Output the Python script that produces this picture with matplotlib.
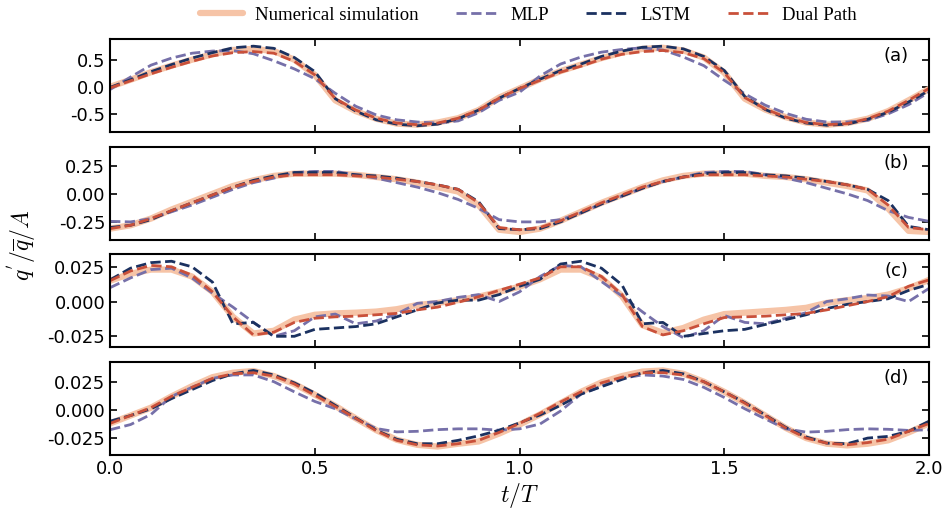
import numpy as np
import matplotlib
matplotlib.use('Agg')
import matplotlib.pyplot as plt

plt.rcParams['mathtext.fontset'] = 'cm'
plt.rcParams['axes.unicode_minus'] = False

# time axis, one sample every 0.05 T
t = np.linspace(0, 2, 41)

# panel (a)
sim_a = [0.0, 0.13, 0.27, 0.39, 0.50, 0.60, 0.68, 0.70, 0.66, 0.50, 0.22, -0.25, -0.45, -0.59, -0.68, -0.70,
         -0.66, -0.58, -0.43, -0.20, -0.03, 0.14, 0.29, 0.41, 0.53, 0.63, 0.70, 0.72, 0.67, 0.54, 0.26, -0.22,
         -0.42, -0.56, -0.66, -0.70, -0.67, -0.59, -0.45, -0.25, -0.04]
mlp_a = [-0.05, 0.18, 0.40, 0.53, 0.62, 0.66, 0.67, 0.61, 0.48, 0.33, 0.15, -0.12, -0.36, -0.52, -0.61, -0.65,
         -0.67, -0.63, -0.48, -0.25, -0.10, 0.20, 0.42, 0.55, 0.64, 0.69, 0.72, 0.68, 0.55, 0.39, 0.12, -0.13,
         -0.34, -0.49, -0.60, -0.65, -0.65, -0.62, -0.50, -0.33, -0.10]
lstm_a = [-0.01, 0.13, 0.28, 0.41, 0.53, 0.63, 0.72, 0.75, 0.71, 0.54, 0.28, -0.22, -0.45, -0.61, -0.69, -0.72,
          -0.69, -0.59, -0.43, -0.21, -0.03, 0.14, 0.30, 0.42, 0.56, 0.66, 0.73, 0.75, 0.70, 0.56, 0.30, -0.18,
          -0.42, -0.58, -0.67, -0.71, -0.69, -0.60, -0.47, -0.28, -0.07]
dual_a = [-0.02, 0.11, 0.24, 0.36, 0.47, 0.57, 0.63, 0.65, 0.62, 0.47, 0.22, -0.22, -0.43, -0.58, -0.67, -0.70,
          -0.67, -0.58, -0.43, -0.21, -0.03, 0.12, 0.27, 0.38, 0.51, 0.60, 0.65, 0.67, 0.63, 0.52, 0.26, -0.20,
          -0.41, -0.56, -0.66, -0.70, -0.68, -0.59, -0.45, -0.25, -0.03]

# panel (b)
sim_b = [-0.31, -0.28, -0.22, -0.14, -0.07, 0.0, 0.07, 0.12, 0.16, 0.18, 0.18, 0.18, 0.17, 0.15, 0.13, 0.10,
         0.06, 0.02, -0.10, -0.32, -0.34, -0.31, -0.24, -0.16, -0.08, -0.01, 0.06, 0.12, 0.16, 0.18, 0.18, 0.18,
         0.16, 0.15, 0.13, 0.10, 0.07, 0.03, -0.13, -0.33, -0.34]
mlp_b = [-0.245, -0.25, -0.22, -0.16, -0.10, -0.03, 0.04, 0.10, 0.14, 0.19, 0.20, 0.20, 0.17, 0.14, 0.10, 0.06,
         0.01, -0.05, -0.13, -0.23, -0.25, -0.25, -0.23, -0.17, -0.09, -0.02, 0.05, 0.11, 0.15, 0.19, 0.20, 0.20,
         0.17, 0.14, 0.10, 0.05, 0.0, -0.06, -0.15, -0.21, -0.245]
lstm_b = [-0.30, -0.28, -0.23, -0.15, -0.08, -0.01, 0.06, 0.12, 0.16, 0.19, 0.19, 0.19, 0.17, 0.16, 0.14, 0.11,
          0.08, 0.04, -0.07, -0.31, -0.32, -0.31, -0.25, -0.17, -0.09, -0.02, 0.05, 0.11, 0.15, 0.18, 0.19, 0.19,
          0.17, 0.16, 0.14, 0.11, 0.08, 0.04, -0.06, -0.29, -0.32]
dual_b = [-0.31, -0.28, -0.22, -0.15, -0.08, -0.01, 0.06, 0.11, 0.15, 0.17, 0.17, 0.17, 0.16, 0.15, 0.13, 0.11,
          0.08, 0.04, -0.08, -0.30, -0.32, -0.30, -0.24, -0.16, -0.08, -0.01, 0.06, 0.11, 0.15, 0.17, 0.17, 0.17,
          0.16, 0.15, 0.13, 0.11, 0.08, 0.04, -0.10, -0.30, -0.32]

# panel (c)
sim_c = [0.015, 0.020, 0.023, 0.023, 0.018, 0.007, -0.011, -0.023, -0.021, -0.013, -0.0095, -0.0085, -0.008,
         -0.0072, -0.0055, -0.0025, -0.001, 0.001, 0.0035, 0.007, 0.0107, 0.016, 0.023, 0.023, 0.017, 0.004,
         -0.017, -0.0225, -0.019, -0.013, -0.009, -0.008, -0.007, -0.006, -0.0045, -0.001, 0.001, 0.0025, 0.005,
         0.0095, 0.0156]
mlp_c = [0.010, 0.017, 0.023, 0.024, 0.017, 0.006, -0.004, -0.015, -0.025, -0.021, -0.011, -0.009, -0.016,
         -0.014, -0.009, -0.0013, 0.0, 0.003, 0.005, 0.0, 0.007, 0.018, 0.026, 0.025, 0.0144, 0.004, -0.0074,
         -0.018, -0.026, -0.021, -0.010, -0.015, -0.016, -0.012, -0.008, 0.0, 0.002, 0.0047, 0.004, 0.0, 0.0095]
lstm_c = [0.0156, 0.024, 0.028, 0.029, 0.025, 0.014, -0.016, -0.015, -0.025, -0.025, -0.020, -0.019, -0.018,
          -0.016, -0.011, -0.006, -0.001, 0.001, 0.001, 0.005, 0.011, 0.016, 0.027, 0.029, 0.024, 0.012, -0.016,
          -0.015, -0.025, -0.023, -0.021, -0.020, -0.0165, -0.013, -0.0095, -0.005, -0.002, 0.0, 0.002, 0.008,
          0.0124]
dual_c = [0.015, 0.022, 0.026, 0.025, 0.019, 0.007, -0.011, -0.024, -0.022, -0.015, -0.012, -0.011, -0.0105,
          -0.0095, -0.0085, -0.006, -0.004, -0.0005, 0.0035, 0.008, 0.0125, 0.017, 0.025, 0.025, 0.018, 0.005,
          -0.018, -0.024, -0.021, -0.016, -0.0115, -0.011, -0.0105, -0.0095, -0.0085, -0.006, -0.003, 0.0, 0.0035,
          0.011, 0.0156]

# panel (d)
sim_d = [-0.012, -0.005, 0.002, 0.012, 0.021, 0.029, 0.033, 0.0345, 0.030, 0.023, 0.0135, 0.0035, -0.0075,
         -0.018, -0.0265, -0.031, -0.0325, -0.030, -0.028, -0.021, -0.013, -0.004, 0.006, 0.016, 0.0244, 0.030,
         0.034, 0.035, 0.032, 0.025, 0.016, 0.006, -0.005, -0.016, -0.025, -0.030, -0.0315, -0.030, -0.027,
         -0.020, -0.012]
mlp_d = [-0.0176, -0.013, -0.004, 0.012, 0.020, 0.028, 0.031, 0.031, 0.025, 0.016, 0.0075, 0.001, -0.008,
         -0.0165, -0.0195, -0.019, -0.0175, -0.0168, -0.0168, -0.018, -0.0168, -0.0125, -0.001, 0.014, 0.021,
         0.028, 0.031, 0.030, 0.027, 0.020, 0.011, 0.001, -0.008, -0.0168, -0.0197, -0.019, -0.0175, -0.0168,
         -0.0172, -0.0182, -0.0176]
lstm_d = [-0.010, -0.005, 0.001, 0.010, 0.018, 0.026, 0.032, 0.035, 0.031, 0.024, 0.015, 0.004, -0.007, -0.018,
          -0.026, -0.030, -0.030, -0.027, -0.023, -0.018, -0.0115, -0.0045, 0.004, 0.014, 0.0206, 0.027, 0.033,
          0.035, 0.032, 0.025, 0.016, 0.0065, -0.0045, -0.0155, -0.024, -0.0295, -0.030, -0.025, -0.0235, -0.019,
          -0.010]
dual_d = [-0.012, -0.005, 0.002, 0.012, 0.020, 0.028, 0.032, 0.033, 0.030, 0.023, 0.013, 0.003, -0.0075,
          -0.0185, -0.027, -0.031, -0.032, -0.030, -0.027, -0.020, -0.012, -0.003, 0.007, 0.016, 0.024, 0.029,
          0.033, 0.033, 0.031, 0.025, 0.016, 0.006, -0.005, -0.016, -0.025, -0.0295, -0.031, -0.029, -0.026,
          -0.019, -0.012]

panel_labels = ['(a)', '(b)', '(c)', '(d)']
panels = [(sim_a, mlp_a, lstm_a, dual_a), (sim_b, mlp_b, lstm_b, dual_b),
          (sim_c, mlp_c, lstm_c, dual_c), (sim_d, mlp_d, lstm_d, dual_d)]
yticks = [[-0.5, 0.0, 0.5], [-0.25, 0.0, 0.25], [-0.025, 0.0, 0.025], [-0.025, 0.0, 0.025]]
ylims = [(-0.84, 0.88), (-0.41, 0.42), (-0.033, 0.034), (-0.040, 0.0426)]
yfmt = ['%.1f', '%.2f', '%.3f', '%.3f']

c_sim = '#f6c4a7'
c_mlp = '#7670a9'
c_lstm = '#1b3160'
c_dual = '#c9503a'

fig, axes = plt.subplots(4, 1, figsize=(9.49, 5.15), dpi=100, sharex=True)
fig.subplots_adjust(left=0.116, right=0.979, top=0.924, bottom=0.1165, hspace=0.155)

for i, ax in enumerate(axes):
    sim, mlp, lstm, dual = panels[i]
    ax.plot(t, sim, color=c_sim, lw=4.5, solid_capstyle='round', label='Numerical simulation')
    ax.plot(t, mlp, color=c_mlp, lw=2, ls='--', label='MLP')
    ax.plot(t, lstm, color=c_lstm, lw=2, ls='--', label='LSTM')
    ax.plot(t, dual, color=c_dual, lw=2, ls='--', label='Dual Path')
    ax.set_xlim(0, 2)
    ax.set_ylim(*ylims[i])
    ax.set_yticks(yticks[i])
    ax.set_yticklabels([yfmt[i] % v for v in yticks[i]])
    ax.set_xticks([0, 0.5, 1.0, 1.5, 2.0])
    ax.tick_params(direction='in', top=True, right=True, labelsize=13, length=5, width=1.2)
    for sp in ax.spines.values():
        sp.set_linewidth(1.5)
    ax.text(0.975, 0.92, panel_labels[i], transform=ax.transAxes, ha='right', va='top', fontsize=13)

axes[-1].set_xticklabels(['0.0', '0.5', '1.0', '1.5', '2.0'])
axes[-1].set_xlabel('$t/T$', fontsize=17, labelpad=2)
fig.text(0.023, 0.525, "$q^{'}/\\overline{q}/A$", rotation=90, ha='center', va='center', fontsize=17)

handles, labels = axes[0].get_legend_handles_labels()
fig.legend(handles, labels, loc='center', bbox_to_anchor=(0.557, 0.97), ncol=4, frameon=False,
           prop={'family': 'Liberation Serif', 'size': 13.5}, handlelength=2.3, handletextpad=0.6,
           columnspacing=2.0)

fig.savefig('out.png', dpi=100)
